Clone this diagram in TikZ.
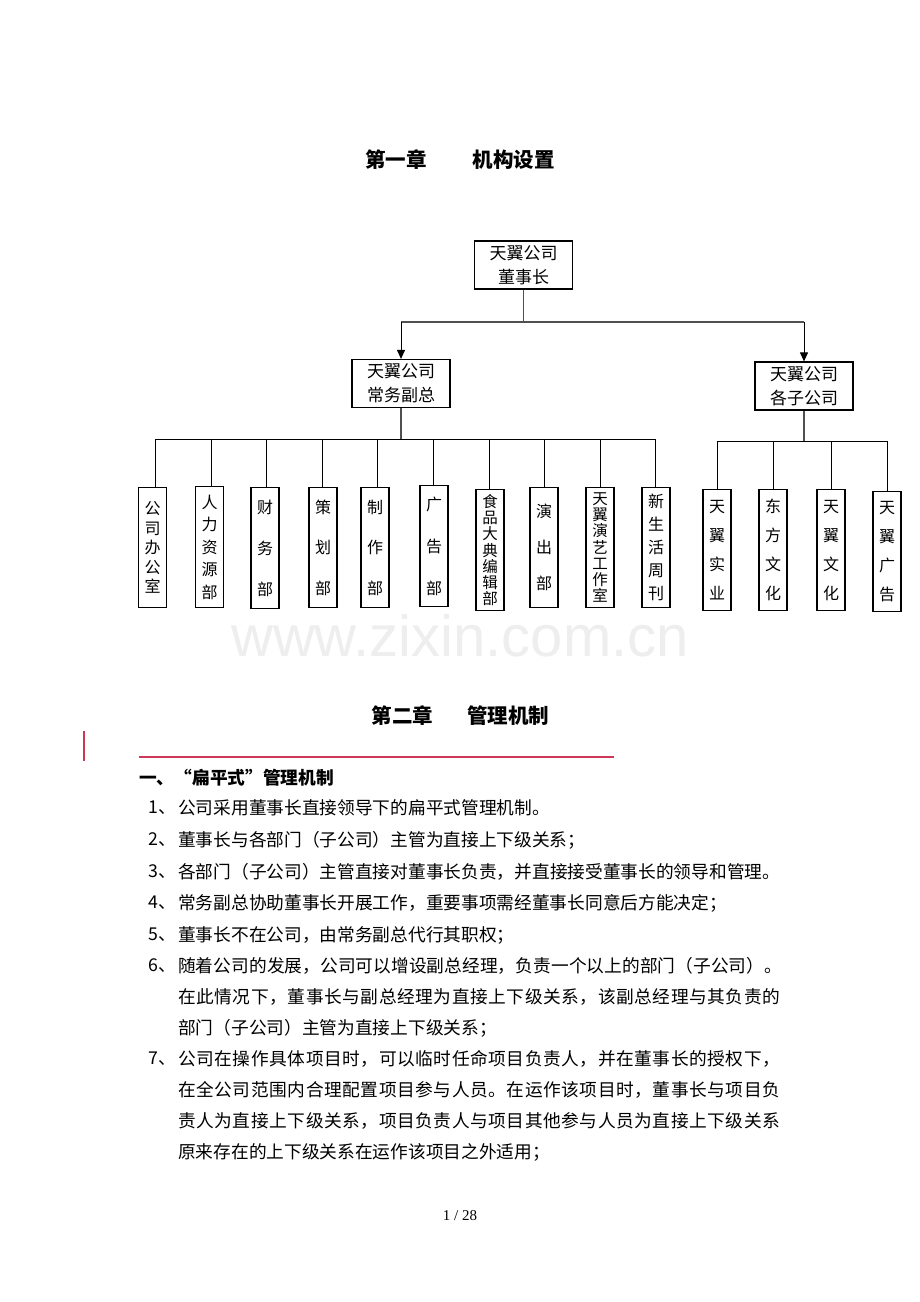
\documentclass[tikz,border=0pt]{standalone}
\usepackage{fontspec}
\setmainfont{Noto Sans CJK SC}
\newfontfamily\serifnum{Liberation Serif}
\newfontfamily\wmfont{Liberation Sans}
\usetikzlibrary{arrows.meta}
\newcommand\fs[2]{\fontsize{#1}{#2}\selectfont}
\def\mygobble#1{}
\def\sprA#1#2{#1\ifx\relax#2\expandafter\mygobble\else\hfil\expandafter\sprA\fi#2}
\newcommand\spreadline[2]{\hbox to #1{\sprA#2\relax}}
\definecolor{busgray}{RGB}{80,80,80}
\definecolor{redline}{RGB}{206,56,88}
\begin{document}
\begin{tikzpicture}[x=1pt,y=-1pt,
  box/.style={draw,line width=1.2pt,inner sep=0pt,minimum width=98pt,minimum height=48pt,align=center,font=\fs{17}{24}},
  vbox/.style={draw,line width=1.2pt,inner sep=0pt,minimum width=28pt,anchor=north,align=center},
  bus/.style={line width=1.6pt,draw=busgray},
  drop/.style={line width=1pt},
  arr/.style={line width=1pt,-{Triangle[width=8pt,length=9pt]}},
  body/.style={anchor=west,inner sep=0pt,font=\fs{17.7}{20}},
  title/.style={inner sep=0pt,font=\fs{20.5}{24}\bfseries},
]
\useasboundingbox (0,0) rectangle (920,1302);
\fill[white] (0,0) rectangle (920,1302);

% watermark
\node[inner sep=0pt,font=\wmfont\fs{58}{60},text=gray!13] (wm) at (460,636) {www.zixin.com.cn};

% chapter 1 title
\node[title] (t1title) at (460,160) {第一章\hspace{46pt}机构设置};

% top level boxes
\node[box] (ceo) at (523.5,265) {天翼公司\\董事长};
\node[box] (vp) at (401,383.5) {天翼公司\\常务副总};
\node[box] (sub) at (804,386) {天翼公司\\各子公司};

\coordinate (bus1) at (0,322);
\draw[bus] (ceo.south) -- (ceo.south |- bus1);
\draw[bus] (vp.north |- bus1) -- (sub.north |- bus1);
\draw[arr] (vp.north |- bus1) -- (vp.north);
\draw[arr] (sub.north |- bus1) -- (sub.north);

% departments
\node[vbox,minimum height=120pt,font=\fs{16}{19.6}] (d1) at (152.5,487) {公\\司\\办\\公\\室};
\node[vbox,minimum height=121pt,font=\fs{16}{22.5}] (d2) at (209.5,486) {人\\力\\资\\源\\部};
\node[vbox,minimum height=121pt,font=\fs{16}{41}] (d3) at (265,487) {财\\务\\部};
\node[vbox,minimum height=120pt,font=\fs{16}{40.5}] (d4) at (323,487) {策\\划\\部};
\node[vbox,minimum height=120pt,font=\fs{16}{40.5}] (d5) at (375,487) {制\\作\\部};
\node[vbox,minimum height=121pt,font=\fs{16}{42}] (d6) at (434,485) {广\\告\\部};
\node[vbox,minimum height=121pt,font=\fs{15.5}{16.2}] (d7) at (490,489) {食\\品\\大\\典\\编\\辑\\部};
\node[vbox,minimum height=120pt,font=\fs{16}{36}] (d8) at (544,487) {演\\出\\部};
\node[vbox,minimum height=120pt,font=\fs{15.5}{16.2}] (d9) at (600,487) {天\\翼\\演\\艺\\工\\作\\室};
\node[vbox,minimum height=120pt,font=\fs{16}{23}] (d10) at (656,487) {新\\生\\活\\周\\刊};

\coordinate (p1) at (155,439);
\coordinate (p2) at (211,439);
\coordinate (p3) at (266.5,439);
\coordinate (p4) at (322,439);
\coordinate (p5) at (377.5,439);
\coordinate (p6) at (433,439);
\coordinate (p7) at (489,439);
\coordinate (p8) at (544.5,439);
\coordinate (p9) at (600,439);
\coordinate (p10) at (655.5,439);
\draw[bus] (vp.south) -- (vp.south |- p1);
\draw[drop] (p1) -- (p10);
\foreach \i in {1,...,10} {\draw[drop] (p\i) -- (p\i |- d\i.north);}

% subsidiaries
\node[vbox,minimum height=121pt,font=\fs{16}{29}] (s1) at (717,489) {天\\翼\\实\\业};
\node[vbox,minimum height=121pt,font=\fs{16}{29}] (s2) at (773,489) {东\\方\\文\\化};
\node[vbox,minimum height=121pt,font=\fs{16}{29}] (s3) at (831,489) {天\\翼\\文\\化};
\node[vbox,minimum height=120pt,font=\fs{16}{29}] (s4) at (887,491) {天\\翼\\广\\告};
\coordinate (q1) at (717,441);
\coordinate (q2) at (773,441);
\coordinate (q3) at (831,441);
\coordinate (q4) at (887,441);
\draw[bus] (sub.south) -- (sub.south |- q1);
\draw[drop] (q1) -- (q4);
\foreach \i in {1,...,4} {\draw[drop] (q\i) -- (q\i |- s\i.north);}

% chapter 2
\node[title] (t2title) at (460.5,716) {第二章\hspace{34pt}管理机制};
\draw[redline,line width=1.3pt] (84,731) -- (84,761);
\draw[redline,line width=1.3pt] (139,757) -- (614,757);

\node[body,font=\fs{17.7}{20}\bfseries] (h1) at (139,778) {一、“扁平式”管理机制};

\node[body] (n1) at (148,808) {1、};
\node[body] (l1) at (178,808) {公司采用董事长直接领导下的扁平式管理机制。};
\node[body] (n2) at (148,840) {2、};
\node[body] (l2) at (178,840) {董事长与各部门（子公司）主管为直接上下级关系；};
\node[body] (n3) at (148,872) {3、};
\node[body] (l3) at (178,872) {\spreadline{602pt}{各部门（子公司）主管直接对董事长负责，并直接接受董事长的领导和管理。}};
\node[body] (n4) at (148,903) {4、};
\node[body] (l4) at (178,903) {常务副总协助董事长开展工作，重要事项需经董事长同意后方能决定；};
\node[body] (n5) at (148,935) {5、};
\node[body] (l5) at (178,935) {董事长不在公司，由常务副总代行其职权；};
\node[body] (n6) at (148,966) {6、};
\node[body] (l6a) at (178,966) {\spreadline{604pt}{随着公司的发展，公司可以增设副总经理，负责一个以上的部门（子公司）。}};
\node[body] (l6b) at (178,997) {\spreadline{602pt}{在此情况下，董事长与副总经理为直接上下级关系，该副总经理与其负责的}};
\node[body] (l6c) at (178,1028) {部门（子公司）主管为直接上下级关系；};
\node[body] (n7) at (148,1059) {7、};
\node[body] (l7a) at (178,1059) {\spreadline{602pt}{公司在操作具体项目时，可以临时任命项目负责人，并在董事长的授权下，}};
\node[body] (l7b) at (178,1090) {\spreadline{602pt}{在全公司范围内合理配置项目参与人员。在运作该项目时，董事长与项目负}};
\node[body] (l7c) at (178,1121) {\spreadline{602pt}{责人为直接上下级关系，项目负责人与项目其他参与人员为直接上下级关系}};
\node[body] (l7d) at (178,1152) {原来存在的上下级关系在运作该项目之外适用；};

\node[inner sep=0pt,font=\serifnum\fs{15}{18}] (page) at (460,1216) {1 / 28};
\end{tikzpicture}
\end{document}
